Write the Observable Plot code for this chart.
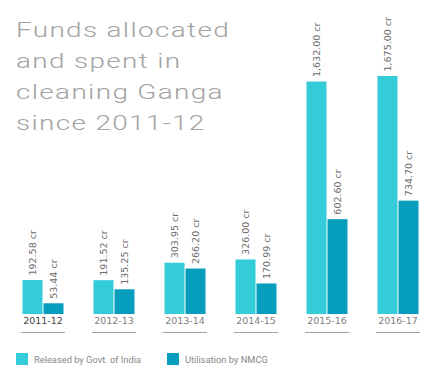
<!DOCTYPE html>
<html>
<head>
<meta charset="utf-8">
<script src="https://cdn.jsdelivr.net/npm/d3@7"></script>
<script src="https://cdn.jsdelivr.net/npm/@observablehq/plot@0.6"></script>
<style>
  html, body { margin: 0; padding: 0; background: #fff; }
  #wrap { position: relative; width: 439px; height: 377px; overflow: hidden; }
  #title { position: absolute; left: 16px; top: 15px; font-family: "Roboto", sans-serif; font-weight: 300;
           font-size: 21px; line-height: 31px; color: #a3a3a3; letter-spacing: 1px;
           transform: scaleX(1.33); transform-origin: left top; white-space: nowrap; }
  #legend { position: absolute; left: 16px; top: 353px; font-family: "Roboto", sans-serif; font-size: 9.3px; color: #888;
            display: flex; align-items: center; }
  .item { display: flex; align-items: center; margin-right: 26px; }
  .sw { width: 12px; height: 12px; margin-right: 6px; }
  svg { position: absolute; left: 0; top: 0; }
</style>
</head>
<body>
<div id="wrap">
  <div id="chart"></div>
  <div id="title"></div>
  <div id="legend"></div>
</div>
<script>
const titleLines = ["Funds allocated", "and spent in", "cleaning Ganga", "since 2011-12"];
const years = ["2011-12", "2012-13", "2013-14", "2014-15", "2015-16", "2016-17"];
const released = [192.58, 191.52, 303.95, 326.00, 1632.00, 1675.00];
const utilised = [53.44, 135.25, 266.20, 170.99, 602.60, 734.70];
const seriesNames = ["Released by Govt. of India", "Utilisation by NMCG"];
const colors = ["#33ccd8", "#079dbd"];

const data = years.flatMap((y, i) => [
  {year: y, series: seriesNames[0], value: released[i]},
  {year: y, series: seriesNames[1], value: utilised[i]}
]);
const fmt = d3.format(",.2f");

const plot = Plot.plot({
  width: 439,
  height: 340,
  marginTop: 76,
  marginBottom: 8,
  marginLeft: 5,
  marginRight: 5,
  style: {fontFamily: "DejaVu Sans, sans-serif", background: "transparent"},
  fx: {domain: years, paddingInner: 0.4, paddingOuter: 0.2, axis: null, label: null},
  x: {domain: seriesNames, padding: 0, axis: null},
  y: {type: "pow", exponent: 0.9, domain: [0, 1675], range: [314, 76], axis: null},
  color: {domain: seriesNames, range: colors},
  marks: [
    Plot.barY(data, {fx: "year", x: "series", y: "value", fill: "series", insetLeft: 0.5, insetRight: 0.5}),
    Plot.text(data, {fx: "year", x: "series", y: "value", text: d => fmt(d.value) + " cr",
      rotate: -90, textAnchor: "start", dy: -5, fill: "#6b6b6b", fontSize: 9.5}),
    Plot.text(years.map(y => ({year: y})), {fx: "year", text: "year", frameAnchor: "bottom", dy: -9,
      fill: d => d.year === years[0] ? "#444" : "#808080", fontSize: 9.5, fontWeight: d => d.year === years[0] ? "bold" : "normal"}),
    Plot.frame({anchor: "bottom", stroke: "#a0a0a0"})
  ]
});
document.getElementById("chart").appendChild(plot);

document.getElementById("title").innerHTML = titleLines.join("<br>");
const legend = document.getElementById("legend");
seriesNames.forEach((s, i) => {
  const it = document.createElement("div");
  it.className = "item";
  it.innerHTML = `<div class="sw" style="background:${colors[i]}"></div><span>${s}</span>`;
  legend.appendChild(it);
});
</script>
</body>
</html>
